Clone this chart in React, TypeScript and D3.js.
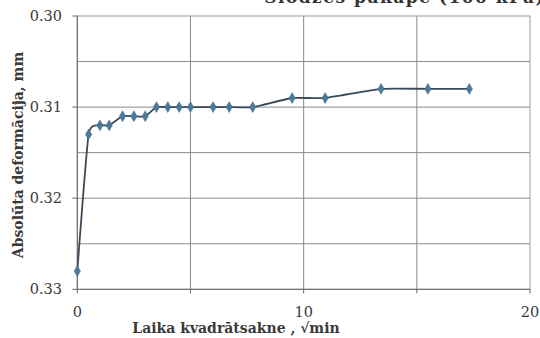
import React from "react";
import * as d3 from "d3";

const xValues = [0, 0.5, 1, 1.41, 2, 2.5, 3, 3.5, 4, 4.5, 5, 6, 6.71, 7.75, 9.49, 10.95, 13.42, 15.49, 17.32];
const yValues = [0.328, 0.313, 0.312, 0.312, 0.311, 0.311, 0.311, 0.31, 0.31, 0.31, 0.31, 0.31, 0.31, 0.31, 0.309, 0.309, 0.308, 0.308, 0.308];
const xTicks = [0, 10, 20];
const xGrid = [5, 10, 15];
const xTickMarks = [0, 5, 10, 15, 20];
const yTicks = [0.3, 0.31, 0.32, 0.33];
const yGrid = [0.305, 0.31, 0.315, 0.32, 0.325];

const W = 540;
const H = 338;

export default function App() {
  const x = d3.scaleLinear().domain([0, 20]).range([77.3, 530]);
  const y = d3.scaleLinear().domain([0.3, 0.33]).range([16, 289.3]);
  const pts: [number, number][] = xValues.map((v, i) => [x(v), y(yValues[i])]);
  const line = d3.line().curve(d3.curveCardinal.tension(0.5))(pts) || "";
  const font = "'DejaVu Serif', serif";
  const diamond = d3.symbol().type(d3.symbolDiamond).size(34)() || "";
  return (
    <svg width={W} height={H} style={{ position: "absolute", left: 0, top: 0, background: "#fff" }} fontFamily={font}>
      <rect x={0} y={0} width={W} height={H} fill="#fff" />
      <text x={545} y={3} textAnchor="end" fontSize={17} fontWeight="bold" fill="#333" letterSpacing={1.5}>
        Slodzes pakāpe (100 kPa)
      </text>
      {yGrid.map((v) => (
        <line key={"yg" + v} x1={x(0)} x2={x(20)} y1={y(v)} y2={y(v)} stroke="#8a8a8a" strokeWidth={1} />
      ))}
      {xGrid.map((v) => (
        <line key={"xg" + v} x1={x(v)} x2={x(v)} y1={y(0.3)} y2={y(0.33)} stroke="#8a8a8a" strokeWidth={1} />
      ))}
      <rect x={x(0)} y={y(0.3)} width={x(20) - x(0)} height={y(0.33) - y(0.3)} fill="none" stroke="#9a9a9a" strokeWidth={1} />
      <line x1={x(0)} x2={x(0)} y1={y(0.3)} y2={y(0.33)} stroke="#666" strokeWidth={1} />
      <line x1={x(0)} x2={x(20)} y1={y(0.33)} y2={y(0.33)} stroke="#666" strokeWidth={1} />
      {yTicks.map((v) => (
        <g key={"yt" + v}>
          <line x1={x(0) - 5} x2={x(0)} y1={y(v)} y2={y(v)} stroke="#666" />
          <text x={62} y={y(v)} dy="0.35em" textAnchor="end" fontSize={14.5} fill="#3a3a3a">
            {d3.format(".2f")(v)}
          </text>
        </g>
      ))}
      {xTickMarks.map((v) => (
        <line key={"xt" + v} x1={x(v)} x2={x(v)} y1={y(0.33)} y2={y(0.33) + 4} stroke="#666" />
      ))}
      {xTicks.map((v) => (
        <text key={"xl" + v} x={x(v)} y={317} textAnchor="middle" fontSize={14.5} fill="#3a3a3a">
          {v}
        </text>
      ))}
      <path d={line} fill="none" stroke="#3b4a58" strokeWidth={1.8} />
      {pts.map((p, i) => (
        <path key={"m" + i} d={diamond} transform={`translate(${p[0]},${p[1]})`} fill="#4a7b9b" stroke="#3f6a86" strokeWidth={0.5} />
      ))}
      <text x={236} y={333} textAnchor="middle" fontSize={14} fontWeight="bold" fill="#3a3a3a">
        Laika kvadrātsakne , √min
      </text>
      <text transform={`translate(23,155) rotate(-90)`} textAnchor="middle" fontSize={14} fontWeight="bold" fill="#3a3a3a">
        Absolūta deformācija, mm
      </text>
    </svg>
  );
}
